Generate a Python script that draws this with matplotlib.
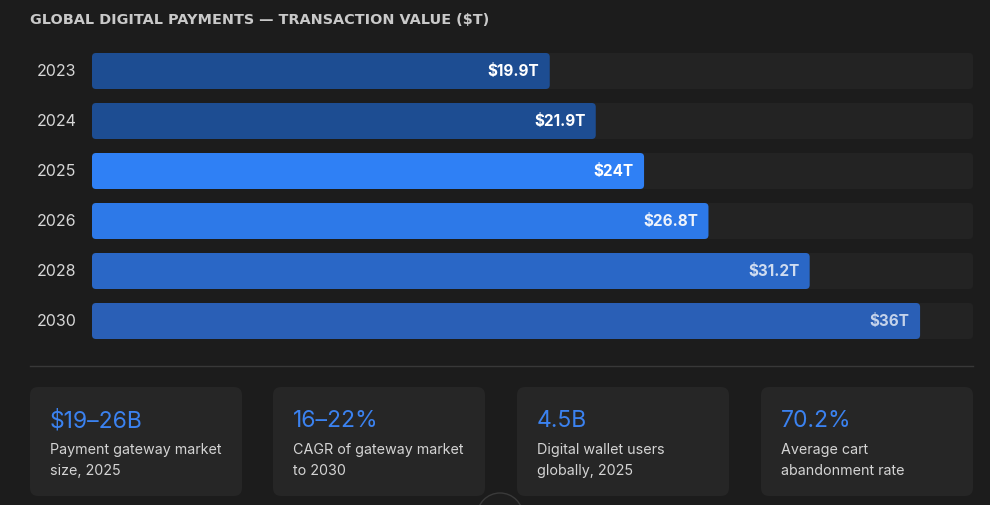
import matplotlib.pyplot as plt
from matplotlib.patches import FancyBboxPatch, Circle
from matplotlib.lines import Line2D

plt.rcParams['font.family'] = ['Inter', 'DejaVu Sans']

# Data
years = ['2023', '2024', '2025', '2026', '2028', '2030']
values = [19.9, 21.9, 24.0, 26.8, 31.2, 36.0]
labels = ['$19.9T', '$21.9T', '$24T', '$26.8T', '$31.2T', '$36T']
bar_colors = ['#1d4d92', '#1d4d92', '#2f80f5', '#2d79e8', '#2a67c6', '#2a5fb6']
label_colors = ['white', 'white', 'white', '#eef3fb', '#cfdcf0', '#c4d2ea']

stat_values = ['$19\u201326B', '16\u201322%', '4.5B', '70.2%']
stat_lines = [['Payment gateway market', 'size, 2025'],
              ['CAGR of gateway market', 'to 2030'],
              ['Digital wallet users', 'globally, 2025'],
              ['Average cart', 'abandonment rate']]

W, H = 990, 506
BG = '#1c1c1c'
TRACK = '#232323'
XMAX = 38.3

fig = plt.figure(figsize=(W / 100, H / 100), dpi=100, facecolor=BG)

# background layer in pixel coords
bg = fig.add_axes([0, 0, 1, 1])
bg.set_xlim(0, W)
bg.set_ylim(H, 0)
bg.axis('off')

bg.text(30, 20, 'GLOBAL DIGITAL PAYMENTS \u2014 TRANSACTION VALUE ($T)',
        color='#c9c9c9', fontsize=10.4, fontweight='bold', va='center', ha='left',
        family='DejaVu Sans')

# bar chart axes: rows from y=47 to 347 px, x from 92 to 973 px
ax = fig.add_axes([92 / W, 1 - 347 / H, (973 - 92) / W, 300 / H])
ax.set_facecolor('none')
ax.set_xlim(0, XMAX)
ax.set_ylim(len(years) - 0.5, -0.5)
ax.axis('off')

pos = list(range(len(years)))
bh = 0.72
tracks = ax.barh(pos, [XMAX] * len(years), height=bh)
bars = ax.barh(pos, values, height=bh)

# x-units per px vs y-units per px
aspect = (1 / 50) / (XMAX / (973 - 92))
rs = 4 * XMAX / (973 - 92)
for group, colors in ((tracks, [TRACK] * len(years)), (bars, bar_colors)):
    for r, c in zip(group, colors):
        p = FancyBboxPatch((r.get_x(), r.get_y()), r.get_width(), r.get_height(),
                           boxstyle=f'round,pad=0,rounding_size={rs}',
                           mutation_aspect=aspect, facecolor=c, edgecolor='none')
        ax.add_patch(p)
        r.remove()

for i, (v, lab) in enumerate(zip(values, labels)):
    ax.text(v - 0.45, i, lab, color=label_colors[i], fontsize=11,
            fontweight='bold', ha='right', va='center')
    ax.text(-0.68, i, years[i], color='#d6d6d6', fontsize=11.5,
            ha='right', va='center')

# divider
bg.add_line(Line2D([30, 973], [367, 367], color='#383838', lw=1))

# stat cards
card_x = [30, 273, 517, 761]
card_w = 212
for x, val, lines in zip(card_x, stat_values, stat_lines):
    card = FancyBboxPatch((x, 388), card_w, 109,
                          boxstyle='round,pad=0,rounding_size=8',
                          facecolor='#262626', edgecolor='none')
    bg.add_patch(card)
    bg.text(x + 20, 421, val, color='#3b82f0', fontsize=16.5, ha='left', va='center')
    bg.text(x + 20, 450, lines[0], color='#d4d4d4', fontsize=10.3, ha='left', va='center')
    bg.text(x + 20, 471, lines[1], color='#d4d4d4', fontsize=10.3, ha='left', va='center')

# partial round button at bottom edge
bg.add_patch(Circle((500, 517), 23, facecolor='#1e1e1e', edgecolor='#3a3a3a', lw=1))

fig.savefig('out.png', dpi=100, facecolor=BG)
